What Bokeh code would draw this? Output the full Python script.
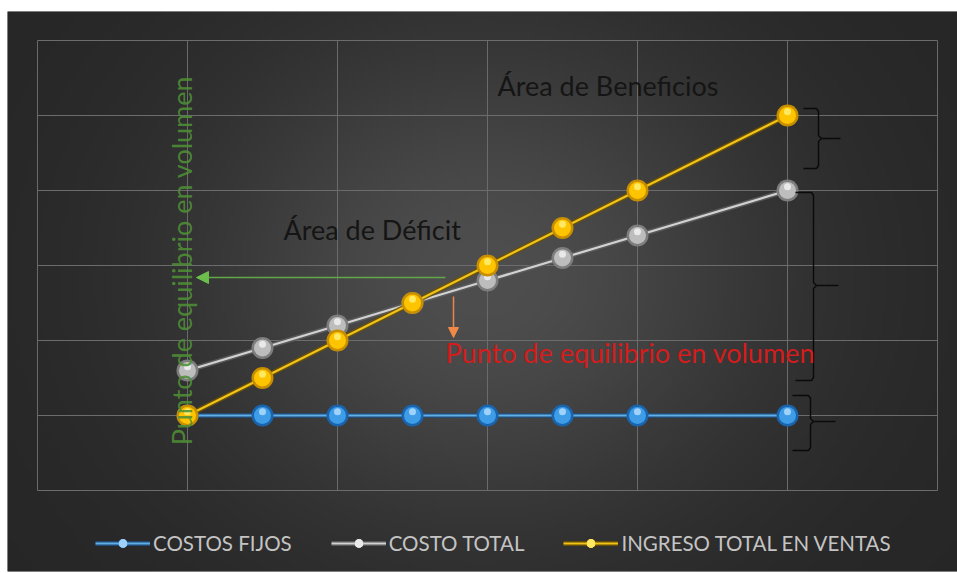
import numpy as np
from bokeh.plotting import figure
from bokeh.models import Range1d, Legend, LegendItem, Label, Arrow, NormalHead
from bokeh.embed import file_html
from bokeh.resources import INLINE

# ---- data ----
unidades = [0, 1, 2, 3, 4, 5, 6, 8]
costos_fijos = [1000, 1000, 1000, 1000, 1000, 1000, 1000, 1000]
costo_total = [1600, 1900, 2200, 2500, 2800, 3100, 3400, 4000]
ingreso_total = [1000, 1500, 2000, 2500, 3000, 3500, 4000, 5000]
x_grid = [-2, 0, 2, 4, 6, 8, 10]
y_grid = [0, 1000, 2000, 3000, 4000, 5000, 6000]
series_names = ["COSTOS FIJOS", "COSTO TOTAL", "INGRESO TOTAL EN VENTAS"]

FONT = "Lato"
X0, X1 = -2.4, 10.2667
Y0, Y1 = -1080.0, 6386.67

p = figure(width=957, height=573, output_backend="svg", toolbar_location=None,
           x_range=Range1d(X0, X1), y_range=Range1d(Y0, Y1),
           x_axis_type=None, y_axis_type=None,
           min_border_left=7, min_border_right=0, min_border_top=11, min_border_bottom=2)
p.grid.visible = False
p.outline_line_color = None
p.border_fill_color = "white"
p.background_fill_color = "#3a3a3a"

# ---- gradient background ----
nx, ny = 240, 140
gx = np.linspace(-1, 1, nx)[None, :]
gy = np.linspace(-1, 1, ny)[:, None]
val = 38 + 40 * np.exp(-((gx - 0.0) / 0.62) ** 2 - ((gy - 0.05) / 0.9) ** 2)
val = val.astype(np.uint32)
img = np.empty((ny, nx), dtype=np.uint32)
view = img.view(dtype=np.uint8).reshape((ny, nx, 4))
view[:, :, 0] = val
view[:, :, 1] = val
view[:, :, 2] = val
view[:, :, 3] = 255
p.image_rgba(image=[img], x=X0, y=Y0, dw=X1 - X0, dh=Y1 - Y0, level="image")

# ---- grid ----
p.segment(x0=x_grid, x1=x_grid, y0=[y_grid[0]] * len(x_grid), y1=[y_grid[-1]] * len(x_grid),
          line_color="#6c6c6c", line_width=1)
p.segment(x0=[x_grid[0]] * len(y_grid), x1=[x_grid[-1]] * len(y_grid), y0=y_grid, y1=y_grid,
          line_color="#6c6c6c", line_width=1)

# ---- series ----
styles = [
    (costos_fijos, "#1d4f80", "#62aee8", "#1a64ad", "#3f9de8", "#b8e0ff"),
    (costo_total, "#5e5e5e", "#d2d2d2", "#7d7d7d", "#bdbdbd", "#f4f4f4"),
    (ingreso_total, "#6e5200", "#f0c419", "#c78e00", "#ffc400", "#fff27a"),
]
items = []
for name, (ys, c_out, c_line, c_m0, c_m1, c_m2) in zip(series_names, styles):
    r0 = p.line(unidades, ys, line_color=c_out, line_width=5, line_alpha=0.85)
    r1 = p.line(unidades, ys, line_color=c_line, line_width=2.2)
    m0 = p.scatter(unidades, ys, size=22, fill_color=c_m0, line_color=None)
    m1 = p.scatter(unidades, ys, size=17, fill_color=c_m1, line_color=None)
    hy = [v + 50 for v in ys]
    m2 = p.scatter(unidades, hy, size=7, fill_color=c_m2, line_color=None, fill_alpha=0.8)
    items.append(LegendItem(label=name, renderers=[r0, r1, m0, m1, m2]))

legend = Legend(items=items, orientation="horizontal", location=(88, 16),
                background_fill_alpha=0, border_line_color=None,
                padding=0, margin=0, spacing=39, label_standoff=3,
                glyph_width=55, glyph_height=22,
                label_text_font=FONT, label_text_font_size="20.5px",
                label_text_color="#c4c4c4")
p.add_layout(legend)

# ---- annotations ----
def px_x(px):
    return (px - 187) / 75.0

def px_y(px):
    return (490 - px) / 0.075

p.add_layout(Label(x=px_x(497), y=px_y(85), text="Área de Beneficios", text_font=FONT,
                   text_font_size="27px", text_color="#151515", text_baseline="middle"))
p.add_layout(Label(x=px_x(283), y=px_y(229), text="Área de Déficit", text_font=FONT,
                   text_font_size="27px", text_color="#151515", text_baseline="middle"))
p.add_layout(Label(x=px_x(445), y=px_y(352), text="Punto de equilibrio en volumen", text_font=FONT,
                   text_font_size="27px", text_color="#d41c1c", text_baseline="middle"))
p.add_layout(Label(x=px_x(181), y=px_y(260), text="Punto de equilibrio en volumen", text_font=FONT,
                   text_font_size="27px", text_color="#4f8f36", text_baseline="middle",
                   text_align="center", angle=np.pi / 2, text_alpha=0.9))

p.add_layout(Arrow(x_start=px_x(445), y_start=px_y(277), x_end=px_x(196), y_end=px_y(277),
                   line_color="#62a846", line_width=1.5,
                   end=NormalHead(size=12, fill_color="#6cbf4c", line_color="#6cbf4c")))
p.add_layout(Arrow(x_start=px_x(453), y_start=px_y(296), x_end=px_x(453), y_end=px_y(337),
                   line_color="#e8864a", line_width=1.5,
                   end=NormalHead(size=10, fill_color="#f08a48", line_color="#f08a48")))

# braces (top, bottom, vertical x, hook x, tick y, tick end x) in pixels of the reference
braces = [(108, 168, 818, 803, 138, 840), (192, 380, 813, 795, 285, 838), (395, 450, 810, 792, 421, 835)]
bx, by = [], []
for top, bot, vx, hx, ty, tx in braces:
    bx.append([px_x(hx), px_x(vx - 2), px_x(vx), px_x(vx), px_x(vx + 3), px_x(vx), px_x(vx), px_x(vx - 2), px_x(hx)])
    by.append([px_y(top), px_y(top), px_y(top + 3), px_y(ty - 3), px_y(ty), px_y(ty + 3), px_y(bot - 3), px_y(bot), px_y(bot)])
    bx.append([px_x(vx + 3), px_x(tx)])
    by.append([px_y(ty), px_y(ty)])
p.multi_line(bx, by, line_color="#0a0a0a", line_width=1.4)

open("out.html", "w").write(file_html(p, INLINE))
